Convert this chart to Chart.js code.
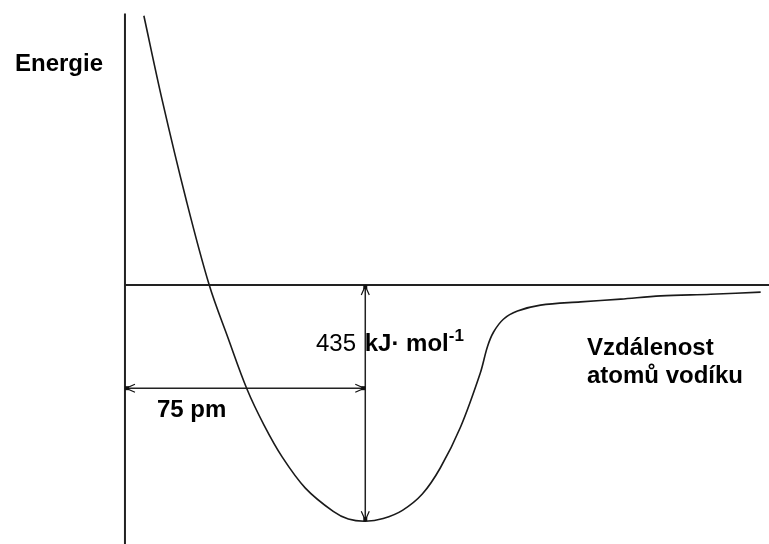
<!DOCTYPE html>
<html lang="cs">
<head>
  <meta charset="UTF-8">
  <title>Energie vazby H2</title>
  <script src="https://cdn.jsdelivr.net/npm/chart.js"></script>
  <style>
    html, body {
      margin: 0;
      padding: 0;
      background: white;
      font-family: "Liberation Sans", Arial, sans-serif;
    }
    .wrap {
      position: relative;
      width: 769px;
      height: 544px;
    }
    .lbl {
      position: absolute;
      color: #000;
      font-size: 24px;
      line-height: 24px;
      font-weight: bold;
      white-space: nowrap;
    }
    .lbl sup {
      font-size: 17px;
      position: relative;
      top: -10px;
      vertical-align: baseline;
    }
  </style>
</head>
<body>
  <div class="wrap">
    <canvas id="chart"></canvas>
    <div class="lbl" style="left:15px; top:51px;">Energie</div>
    <div class="lbl" style="left:316px; top:331px;"><span style="font-weight:normal">435</span> <span style="margin-left:2px">kJ· mol</span><sup>-1</sup></div>
    <div class="lbl" style="left:587px; top:335px;">Vzdálenost</div>
    <div class="lbl" style="left:587px; top:363px;">atomů vodíku</div>
    <div class="lbl" style="left:157px; top:397px;">75 pm</div>
  </div>

  <script>
    // vzdálenost jader (pm) a energie (kJ/mol)
    const distancePm = [5.9, 11.6, 19.1, 26.3, 32.2, 38.1, 43.4, 49.1, 56.3, 65.0, 69.7, 75.0,
      80.6, 86.6, 92.8, 98.4, 104.7, 110.9, 113.1, 115.0, 118.1, 122.5, 129.7, 142.2,
      154.7, 167.2, 182.8, 198.4];
    const energyKj = [496, 341, 157, 0, -98, -192, -258, -317, -374, -417, -431, -435,
      -430, -415, -385, -337, -262, -162, -114, -87, -63, -48, -37, -31,
      -26, -20, -17, -13];

    const bondLength = 75;     // pm
    const bondEnergy = 435;    // kJ/mol
    const lengthArrowY = -190; // výška šipky 75 pm
    const xRange = [-39, 201];
    const yRange = [-477, 525];
    const energyAxisTop = 500;

    const curve = distancePm.map((x, i) => ({ x: x, y: energyKj[i] }));

    function line(points, width) {
      return {
        data: points,
        showLine: true,
        borderColor: '#222',
        borderWidth: width,
        pointRadius: 0,
        fill: false
      };
    }

    // šipky na koncích úseček
    const arrowHeads = {
      id: 'arrowHeads',
      afterDatasetsDraw(chart) {
        const ctx = chart.ctx;
        const xs = chart.scales.x, ys = chart.scales.y;
        function head(px, py, dx, dy) {
          const nx = -dy, ny = dx;
          ctx.save();
          ctx.strokeStyle = '#111';
          ctx.fillStyle = '#111';
          ctx.lineWidth = 1.2;
          ctx.beginPath();
          ctx.moveTo(px - dx * 10 + nx * 4, py - dy * 10 + ny * 4);
          ctx.lineTo(px - dx * 1, py - dy * 1);
          ctx.lineTo(px - dx * 10 - nx * 4, py - dy * 10 - ny * 4);
          ctx.stroke();
          ctx.fillRect(px - 2 - dx * 2, py - 2 - dy * 2, 4, 4);
          ctx.restore();
        }
        const ax = xs.getPixelForValue(bondLength);
        const y0 = ys.getPixelForValue(0);
        const y1 = ys.getPixelForValue(-bondEnergy);
        head(ax, y0, 0, -1);
        head(ax, y1, 0, 1);
        const hy = ys.getPixelForValue(lengthArrowY);
        const x0 = xs.getPixelForValue(0);
        head(x0, hy, -1, 0);
        head(ax, hy, 1, 0);
      }
    };

    new Chart(document.getElementById('chart'), {
      type: 'scatter',
      data: {
        datasets: [
          Object.assign(line(curve, 1.6), { tension: 0.35, borderColor: '#1a1a1a' }),
          line([{ x: 0, y: energyAxisTop }, { x: 0, y: yRange[0] }], 2),
          line([{ x: 0, y: 0 }, { x: xRange[1], y: 0 }], 2),
          line([{ x: bondLength, y: 0 }, { x: bondLength, y: -bondEnergy }], 1.5),
          line([{ x: 0, y: lengthArrowY }, { x: bondLength, y: lengthArrowY }], 1.5)
        ]
      },
      options: {
        responsive: true,
        maintainAspectRatio: false,
        animation: false,
        layout: { padding: 0 },
        plugins: { legend: { display: false }, tooltip: { enabled: false } },
        scales: {
          x: { type: 'linear', display: false, min: xRange[0], max: xRange[1] },
          y: { type: 'linear', display: false, min: yRange[0], max: yRange[1] }
        }
      },
      plugins: [arrowHeads]
    });
  </script>
</body>
</html>
